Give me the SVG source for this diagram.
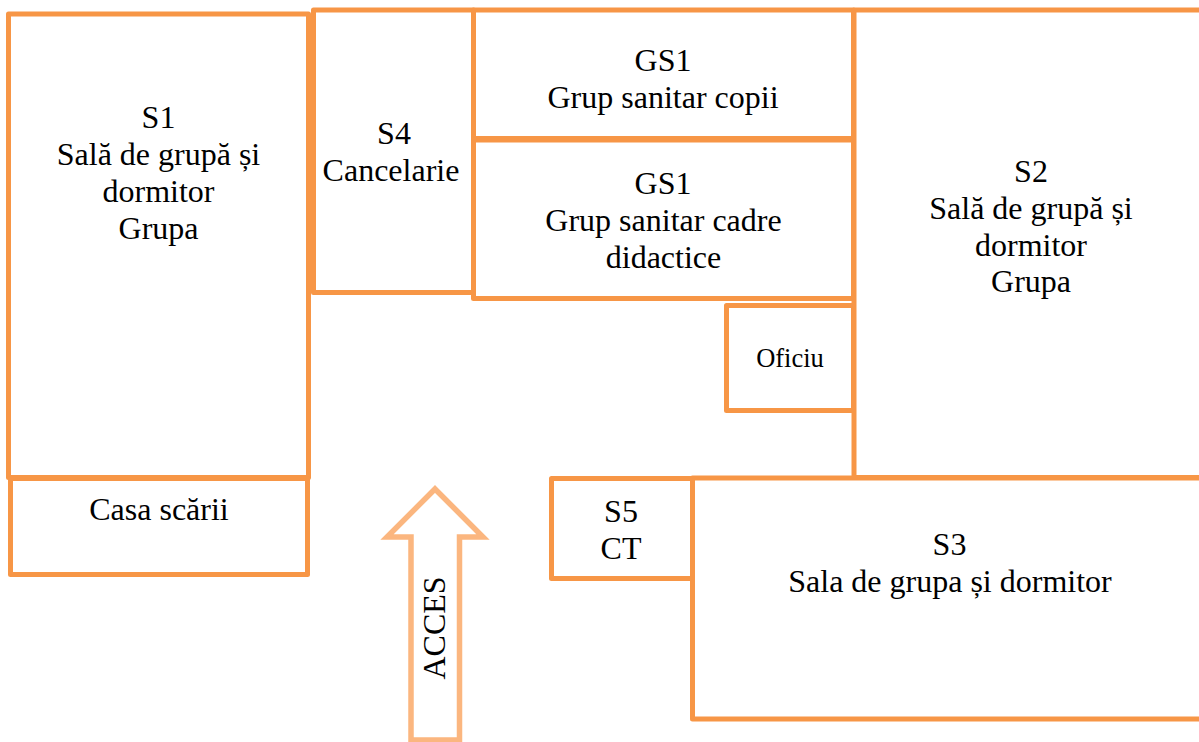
<svg xmlns="http://www.w3.org/2000/svg" width="1199" height="742" viewBox="0 0 1199 742">
<style>
.w{fill:none;stroke:#F79646;stroke-width:5;stroke-linejoin:round;stroke-linecap:butt}
.a{fill:#fff;stroke:#FBB67F;stroke-width:5.5;stroke-linejoin:miter}
text{font-family:"Liberation Serif","Times New Roman",serif;font-size:32px;fill:#000;text-anchor:middle}
</style>
<rect width="1199" height="742" fill="#fff"/>
<g id="connectors"/>
<g id="S1"><rect class="w" x="8.500" y="14" width="300" height="463.500"/>
<text x="158.500" y="128">S1</text><text x="158.500" y="165">Sală de grupă și</text><text x="158.500" y="202">dormitor</text><text x="158.500" y="239">Grupa</text></g>
<g id="CasaScarii"><rect class="w" x="10.500" y="478.500" width="297" height="96"/>
<text x="159" y="520">Casa scării</text></g>
<g id="S4"><rect class="w" x="313.500" y="10" width="160" height="282.500"/>
<text x="394" y="144">S4</text><text x="391" y="181">Cancelarie</text></g>
<g id="GS1a"><rect class="w" x="473.500" y="10" width="380" height="128.500"/>
<text x="663" y="71">GS1</text><text x="663" y="108">Grup sanitar copii</text></g>
<g id="GS1b"><rect class="w" x="473.500" y="140" width="380" height="158.500"/>
<text x="663" y="194">GS1</text><text x="663.500" y="231">Grup sanitar cadre</text><text x="663.500" y="268">didactice</text></g>
<g id="Oficiu"><rect class="w" x="726.500" y="305.500" width="127" height="105"/>
<text x="790" y="367" style="font-size:26.500px">Oficiu</text></g>
<g id="S2"><path class="w" d="M1199 10H854V477.500H1199"/>
<text x="1031" y="182">S2</text><text x="1031" y="219">Sală de grupă și</text><text x="1031" y="256">dormitor</text><text x="1031" y="292">Grupa</text></g>
<g id="S5"><rect class="w" x="551.500" y="478.500" width="141" height="100"/>
<text x="621" y="522">S5</text><text x="621" y="559">CT</text></g>
<g id="S3"><path class="w" d="M1199 478H692.500V719H1199"/>
<text x="949.500" y="555">S3</text><text x="950" y="592">Sala de grupa și dormitor</text></g>
<g id="ACCES"><path class="a" d="M435 489L483 537H459.500V740H411V537H387Z"/>
<text transform="translate(444.500 628) rotate(-90)">ACCES</text></g>
</svg>
